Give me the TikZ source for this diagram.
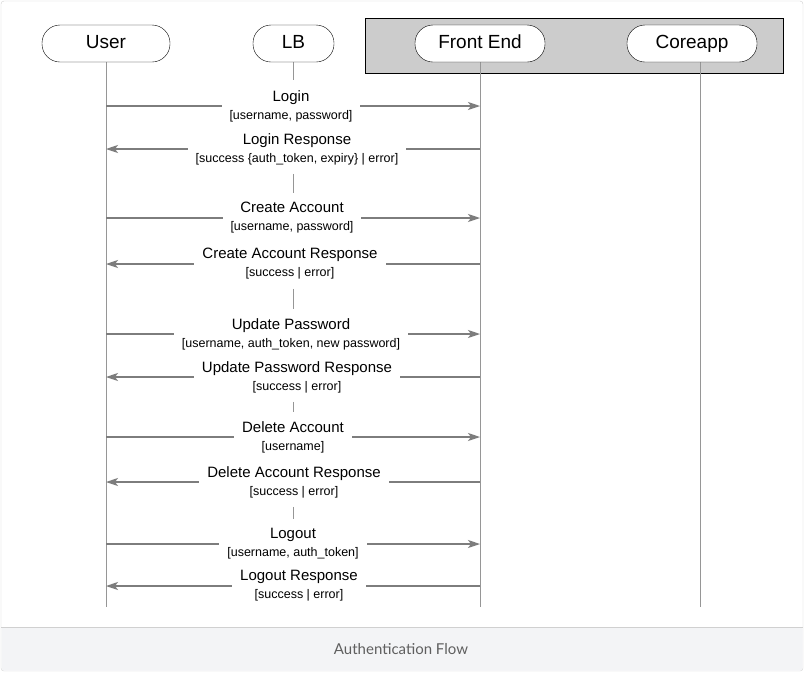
\documentclass[tikz,border=0pt]{standalone}
\usepackage{fontspec}
\setmainfont{Liberation Sans}
\newfontfamily\capfont{Lato}
\usetikzlibrary{arrows.meta, backgrounds}
\definecolor{lifegray}{RGB}{150,150,150}
\definecolor{msggray}{RGB}{125,125,125}
\definecolor{groupgray}{RGB}{204,204,204}
\definecolor{capbg}{RGB}{243,244,246}
\definecolor{framegray}{RGB}{208,208,208}
\definecolor{captext}{RGB}{95,95,95}
\newcommand{\msglabel}[2]{#1\\{\fontsize{12.5}{14}\selectfont[#2]}}

\begin{document}
\begin{tikzpicture}[x=1pt, y=-1pt,
  actor/.style={rectangle, draw, rounded corners=18pt, fill=white,
    minimum height=37pt, inner sep=0pt, text height=13.5pt, text depth=3.5pt,
    font=\fontsize{19}{21}\selectfont},
  lifeline/.style={draw=lifegray, line width=0.9pt},
  msg/.style={draw=msggray, line width=1.2pt,
    -{Stealth[length=12pt, width=8pt, inset=3pt]}},
  msgtext/.style={fill=white, align=center, inner xsep=8pt, inner ysep=2pt,
    font=\fontsize{15}{18}\selectfont}
]
\useasboundingbox (0,0) rectangle (805,673);

\node[actor, minimum width=128pt] (User) at (106,43.5) {User};
\node[actor, minimum width=81pt] (LB) at (293.5,43.5) {LB};
\node[actor, minimum width=130pt] (FE) at (480,43.5) {Front End};
\node[actor, minimum width=130pt] (CA) at (692,43.5) {Coreapp};

\node[msgtext] (m1) at (291,106) {\msglabel{Login}{username, password}};
\node[msgtext] (m2) at (297,149) {\msglabel{Login Response}{success \{auth\_token, expiry\} | error}};
\node[msgtext] (m3) at (292,218) {\msglabel{Create Account}{username, password}};
\node[msgtext] (m4) at (290,264) {\msglabel{Create Account Response}{success | error}};
\node[msgtext] (m5) at (291,334) {\msglabel{Update Password}{username, auth\_token, new password}};
\node[msgtext] (m6) at (297,377) {\msglabel{Update Password Response}{success | error}};
\node[msgtext] (m7) at (293,437) {\msglabel{Delete Account}{username}};
\node[msgtext] (m8) at (294,482) {\msglabel{Delete Account Response}{success | error}};
\node[msgtext] (m9) at (293,544) {\msglabel{Logout}{username, auth\_token}};
\node[msgtext] (m10) at (299,586) {\msglabel{Logout Response}{success | error}};

\node[font=\capfont\fontsize{15}{17}\selectfont, text=captext] (cap) at (401,649) {Authentication Flow};

\begin{pgfonlayer}{background}
  % frame and caption band
  \draw[framegray, fill=white, rounded corners=3pt] (1,1) rectangle (803,671);
  \fill[capbg, rounded corners=2pt] (1.5,627) rectangle (802.5,670.5);
  \draw[framegray] (1,627) -- (803,627);
  \node[draw, fill=groupgray, minimum width=418pt, minimum height=55pt, inner sep=0pt] (grp) at (574,45.5) {};
  % lifelines
  \coordinate (bottom) at (0,607);
  \draw[lifeline] (User.south) -- (User.south |- bottom);
  \draw[lifeline] (FE.south) -- (FE.south |- bottom);
  \draw[lifeline] ([xshift=8pt]CA.south) -- ([xshift=8pt]CA.south |- bottom);
  \draw[lifeline, shorten >=8pt] (LB.south) -- (LB.south |- m1.north);
  \foreach \a/\b in {m2/m3, m4/m5, m6/m7, m8/m9}
    \draw[lifeline, shorten <=7pt, shorten >=7pt] (LB.south |- \a.south) -- (LB.south |- \b.north);
  % messages
  \foreach \m in {m1, m3, m5, m7, m9}
    \draw[msg] (User.south |- \m) -- (FE.south |- \m);
  \foreach \m in {m2, m4, m6, m8, m10}
    \draw[msg] (FE.south |- \m) -- (User.south |- \m);
\end{pgfonlayer}
\end{tikzpicture}
\end{document}
